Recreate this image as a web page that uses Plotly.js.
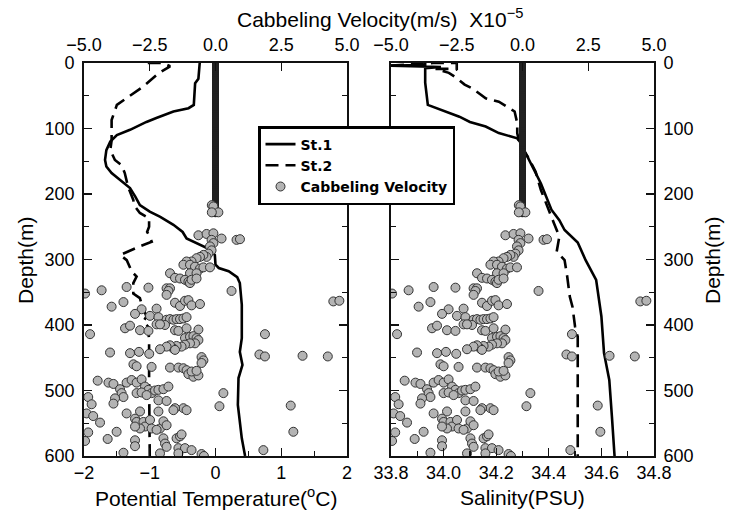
<!DOCTYPE html>
<html>
<head>
<meta charset="utf-8">
<script src="https://cdn.plot.ly/plotly-3.0.1.min.js"></script>
<style>html,body{margin:0;padding:0;background:#fff;}#chart{width:731px;height:513px;}</style>
</head>
<body>
<div id="chart"></div>
<script>
// Potential temperature profiles (degC) vs depth (m)
const tempSt1 = [-0.24,-0.26,-0.31,-0.33,-0.41,-0.64,-0.90,-1.05,-1.30,-1.50,-1.60,-1.66,-1.68,-1.66,-1.58,-1.48,-1.38,-1.30,-1.22,-1.15,-1.00,-0.84,-0.64,-0.50,-0.44,-0.24,-0.08,-0.01,0.00,0.05,0.20,0.33,0.37,0.40,0.40,0.37,0.41,0.35,0.34,0.40,0.45];
const tempSt1Depth = [0,24,31,64,69,74,84,90,102,110,120,133,148,158,168,176,184,191,204,217,227,235,247,258,268,278,285,293,308,313,318,327,336,369,420,441,461,481,522,573,600];
const tempSt2 = [-1.03,-0.80,-0.69,-0.87,-1.10,-1.35,-1.50,-1.58,-1.58,-1.60,-1.53,-1.43,-1.38,-1.33,-1.25,-1.24,-1.15,-1.01,-1.01,-1.04,-1.00,-0.97,-1.15,-1.45,-1.35,-1.27,-1.20,-1.25,-1.25,-1.15,-1.12,-1.05,-1.10,-1.02,-1.01,-1.01,-1.00];
const tempSt2Depth = [0,0,5,16,36,54,64,87,118,133,148,156,168,189,209,217,229,237,250,258,265,273,280,293,301,319,326,336,352,359,369,387,395,403,428,484,600];

// Salinity profiles (PSU) vs depth (m)
const salSt1 = [33.93,33.93,33.80,33.99,33.93,33.93,33.94,33.99,34.06,34.10,34.16,34.21,34.28,34.29,34.32,34.35,34.37,34.39,34.41,34.44,34.46,34.51,34.54,34.58,34.60,34.61,34.63,34.64,34.65];
const salSt1Depth = [0,3,4,6,8,30,64,72,82,90,97,107,115,120,145,168,184,204,224,240,255,274,301,331,387,443,484,540,600];
const salSt2 = [33.80,33.96,34.05,34.05,33.97,34.02,34.05,34.08,34.11,34.16,34.21,34.27,34.28,34.28,34.29,34.32,34.35,34.37,34.42,34.44,34.43,34.46,34.47,34.48,34.49,34.50,34.51,34.51,34.51,34.51];
const salSt2Depth = [4,0,0,9,9,15,23,33,39,54,59,74,92,107,125,143,166,194,245,265,288,301,326,357,372,403,418,458,520,600];

// Cabbeling velocity (x1e-5 m/s): near-zero column in the upper layer (one value per metre)
const columnDepth = [0,1,2,3,4,5,6,7,8,9,10,11,12,13,14,15,16,17,18,19,20,21,22,23,24,25,26,27,28,29,30,31,32,33,34,35,36,37,38,39,40,41,42,43,44,45,46,47,48,49,50,51,52,53,54,55,56,57,58,59,60,61,62,63,64,65,66,67,68,69,70,71,72,73,74,75,76,77,78,79,80,81,82,83,84,85,86,87,88,89,90,91,92,93,94,95,96,97,98,99,100,101,102,103,104,105,106,107,108,109,110,111,112,113,114,115,116,117,118,119,120,121,122,123,124,125,126,127,128,129,130,131,132,133,134,135,136,137,138,139,140,141,142,143,144,145,146,147,148,149,150,151,152,153,154,155,156,157,158,159,160,161,162,163,164,165,166,167,168,169,170,171,172,173,174,175,176,177,178,179,180,181,182,183,184,185,186,187,188,189,190,191,192,193,194,195,196,197,198,199,200,201,202,203,204,205,206,207,208,209,210,211,212,213,214,215,216,217,218,219,220,221,222,223,224,225,226,227,228,229,230];
const columnVel = columnDepth.map(() => 0);

// Cabbeling velocity (x1e-5 m/s): scattered values below
const cabVel = [-0.65,-0.34,-0.08,0.23,0.80,0.93,-0.15,-0.08,-0.21,-0.15,
-0.27,-0.34,-0.46,-0.59,-0.72,-0.91,-1.10,-1.22,-0.97,-0.78,
-0.59,-0.46,-0.21,-0.97,-0.72,-1.73,-1.54,-1.35,-1.16,-1.03,
-0.97,-0.91,-0.72,0.61,-1.86,-1.73,-1.79,-1.86,-2.55,-3.38,
-4.33,-4.96,-3.50,-3.95,-2.81,-2.24,-1.54,-1.35,-1.16,-1.03,
-0.91,-0.59,4.48,4.71,-3.06,-2.49,-2.17,-1.98,-1.86,-1.73,
-1.60,-1.48,-1.35,-1.22,-1.10,-1.92,-2.24,-2.11,-2.87,-2.55,
-3.44,-3.25,-4.77,-1.54,-1.41,-1.10,-0.65,-1.16,-0.97,-0.84,
-0.72,-0.65,-0.78,-0.97,-1.16,-1.29,-1.48,-1.60,-1.73,-1.86,
-2.11,-1.54,-4.01,-3.25,-2.91,-2.52,1.88,1.67,1.88,3.31,
4.27,-0.53,-0.46,-0.53,-3.12,-3.00,-2.43,-1.73,-1.41,-1.22,
-1.10,-1.03,-0.84,-0.65,-0.91,-0.72,-4.48,-4.07,-3.88,-3.38,
-3.19,-3.00,-2.81,-2.68,-2.55,-2.43,-2.30,-2.17,-1.98,-1.79,
-3.63,-3.57,-3.50,-3.82,-3.88,-4.84,-4.71,-3.00,-2.81,-2.62,
-2.17,-1.86,0.30,0.15,2.86,-1.22,-1.10,-1.54,-1.60,-2.17,
-2.87,-3.06,-3.38,-4.90,-4.65,-4.39,-3.00,-2.74,-2.68,-2.87,
-3.06,-2.49,-2.43,-2.11,-2.24,-1.98,-1.86,-3.76,-4.84,-4.96,
-4.10,-3.06,-3.06,-1.98,-1.92,-1.86,-1.48,-1.35,-1.29,-1.41,
-1.16,-0.91,-3.50,-2.11,-1.41,-0.53,-0.44,1.82,2.96,
-0.14,-0.08,0.11,-0.14];
const cabDepth = [263,261,260,268,270,269,270,275,280,286,
291,296,293,296,298,303,303,308,308,311,
314,312,312,321,321,321,328,329,331,334,
336,331,329,348,344,344,348,354,343,342,
347,352,365,372,376,375,366,371,363,362,
370,368,364,363,383,386,388,398,392,391,
392,391,391,390,388,400,399,399,408,409,
405,401,414,408,409,405,407,420,418,417,
420,423,428,428,430,433,432,436,431,433,
437,438,442,443,441,444,414,445,448,447,
448,449,454,458,460,463,464,465,465,466,
469,475,479,477,471,470,485,488,490,488,
484,488,483,494,499,504,500,499,498,494,
498,504,510,512,520,510,521,504,503,507,
515,516,504,524,523,527,530,527,530,532,
532,543,535,535,539,549,548,548,555,558,
555,545,558,558,560,547,553,563,564,577,
574,576,585,573,581,586,573,570,567,588,
588,591,595,596,596,597,600,591,563,
217,219,228,228];

const TXT = 'Liberation Sans, Arial, Helvetica, sans-serif';
const W = 731, H = 513;
const lx = [84/W, 347/W], rx = [391/W, 654/W], dy = [57/H, 450/H];

const lineStyle = {color:'#000', width:2.6};
const dashStyle = {color:'#000', width:2.6, dash:'13px,7px'};
const mk = {size:9, color:'#b4b4b4', line:{color:'#333', width:1}};
const mkColumn = {size:5, color:'#555', line:{color:'#222', width:2}};

const traces = [
  {x:tempSt1, y:tempSt1Depth, xaxis:'x', yaxis:'y', mode:'lines', line:lineStyle, name:'<b>St.1</b>', legendgroup:'a'},
  {x:tempSt2, y:tempSt2Depth, xaxis:'x', yaxis:'y', mode:'lines', line:dashStyle, name:'<b>St.2</b>', legendgroup:'b'},
  {x:salSt1, y:salSt1Depth, xaxis:'x3', yaxis:'y2', mode:'lines', line:lineStyle, showlegend:false, legendgroup:'a'},
  {x:salSt2, y:salSt2Depth, xaxis:'x3', yaxis:'y2', mode:'lines', line:dashStyle, showlegend:false, legendgroup:'b'},
  {x:columnVel, y:columnDepth, xaxis:'x2', yaxis:'y', mode:'markers', marker:mkColumn, showlegend:false, legendgroup:'c'},
  {x:cabVel, y:cabDepth, xaxis:'x2', yaxis:'y', mode:'markers', marker:mk, name:'<b>Cabbeling Velocity</b>', legendgroup:'c'},
  {x:columnVel, y:columnDepth, xaxis:'x4', yaxis:'y2', mode:'markers', marker:mkColumn, showlegend:false, legendgroup:'c'},
  {x:cabVel, y:cabDepth, xaxis:'x4', yaxis:'y2', mode:'markers', marker:mk, showlegend:false, legendgroup:'c'}
];

const ax = {showline:true, linecolor:'#111', linewidth:1.8, ticks:'inside', ticklen:8, tickwidth:1.3, tickcolor:'#111',
  showgrid:false, zeroline:false, tickfont:{family:TXT, size:18, color:'#000'}};
const minorX = (d) => ({dtick:d, ticks:'inside', ticklen:5, tickwidth:1.2, tickcolor:'#111', showgrid:false});

const layout = {
  width:W, height:H, margin:{l:0,r:0,t:0,b:0}, paper_bgcolor:'#fff', plot_bgcolor:'rgba(0,0,0,0)',
  showlegend:true,
  xaxis: Object.assign({}, ax, {domain:lx, range:[-2,2], dtick:1, tick0:0, anchor:'y', minor:minorX(0.5)}),
  xaxis2: Object.assign({}, ax, {overlaying:'x', side:'top', anchor:'y', range:[-5,5], dtick:2.5, tick0:0, tickformat:'.1f', ticklabelstandoff:3}),
  yaxis: Object.assign({}, ax, {domain:dy, range:[600,0], dtick:100, tick0:0, anchor:'x', mirror:'ticks', ticklabelstandoff:4, minor:minorX(50)}),
  xaxis3: Object.assign({}, ax, {domain:rx, range:[33.8,34.8], dtick:0.2, tick0:33.8, tickformat:'.1f', anchor:'y2', minor:minorX(0.1)}),
  xaxis4: Object.assign({}, ax, {overlaying:'x3', side:'top', anchor:'y2', range:[-5,5], dtick:2.5, tick0:0, tickformat:'.1f', ticklabelstandoff:3}),
  yaxis2: Object.assign({}, ax, {domain:dy, range:[600,0], dtick:100, tick0:0, anchor:'x3', side:'right', mirror:'ticks', ticklabelstandoff:4, minor:minorX(50)}),
  legend: {x:258/W, y:1-126/H, xanchor:'left', yanchor:'top', bgcolor:'#fff', bordercolor:'#000', borderwidth:2.5,
    font:{family:'DejaVu Sans, Verdana, sans-serif', size:14, color:'#000'}, tracegroupgap:0},
  annotations: [
    {text:'Cabbeling Velocity(m/s)  X10<sup>\u22125</sup>', xref:'paper', yref:'paper', x:380/W, y:1-18/H, xanchor:'center', yanchor:'middle', showarrow:false, font:{family:TXT, size:21, color:'#000'}},
    {text:'Potential Temperature(<sup>o</sup>C)', xref:'paper', yref:'paper', x:216/W, y:1-497/H, xanchor:'center', yanchor:'middle', showarrow:false, font:{family:TXT, size:21, color:'#000'}},
    {text:'Salinity(PSU)', xref:'paper', yref:'paper', x:522/W, y:1-497/H, xanchor:'center', yanchor:'middle', showarrow:false, font:{family:TXT, size:21, color:'#000'}},
    {text:'Depth(m)', xref:'paper', yref:'paper', x:25/W, y:1-260/H, xanchor:'center', yanchor:'middle', textangle:-90, showarrow:false, font:{family:TXT, size:21, color:'#000'}},
    {text:'Depth(m)', xref:'paper', yref:'paper', x:712/W, y:1-260/H, xanchor:'center', yanchor:'middle', textangle:-90, showarrow:false, font:{family:TXT, size:21, color:'#000'}}
  ]
};

Plotly.newPlot('chart', traces, layout, {staticPlot:true, displayModeBar:false});
</script>
</body>
</html>
